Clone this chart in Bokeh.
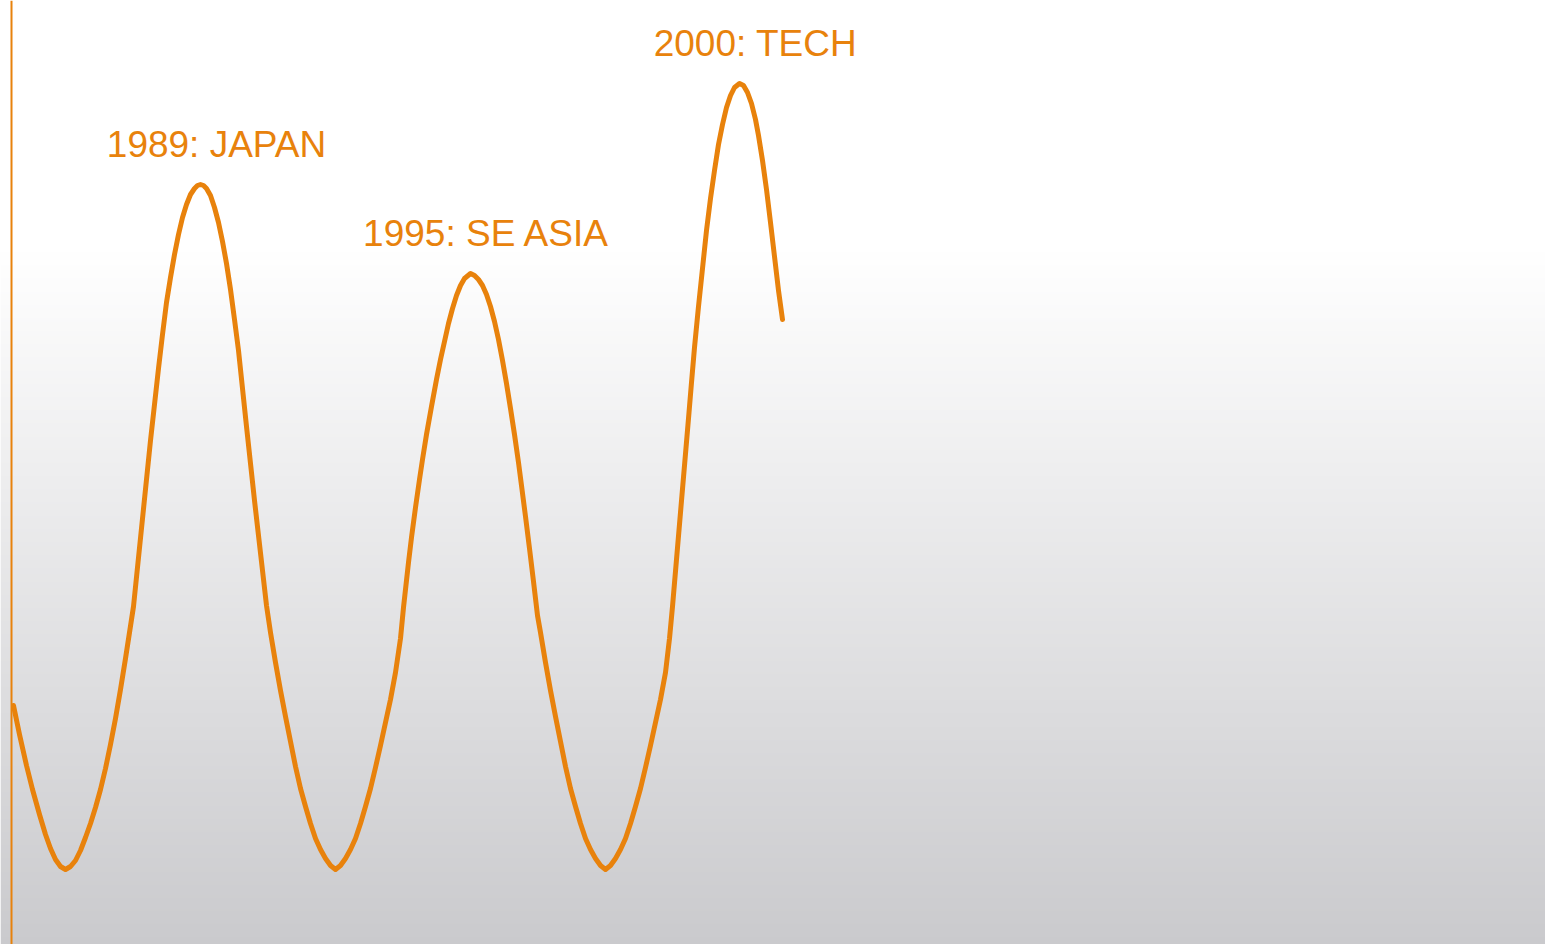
import numpy as np
from bokeh.plotting import figure
from bokeh.models import Range1d, Span
from bokeh.core.properties import value
from bokeh.embed import file_html
from bokeh.resources import INLINE

ORANGE = "#e8820c"

# Time position of each sample along the horizontal scale
t = [13, 19, 26, 32, 39, 45, 50, 55, 60, 65, 70, 75, 80, 85, 90, 95, 100, 105,
     110, 115, 120, 125, 129, 133, 150, 154, 158, 162, 166, 170, 174, 178, 182,
     186, 190, 194, 197, 200, 203, 206, 210, 214, 218, 222, 226, 230, 234, 238,
     242, 246, 250, 254, 258, 262, 266, 270, 275, 280, 285, 290, 295, 300, 305,
     310, 315, 320, 325, 330, 335, 340, 345, 350, 355, 360, 365, 370, 375, 380,
     385, 390, 395, 400, 403, 408, 411, 415, 419, 422, 426, 431, 436, 440, 444,
     448, 452, 456, 460, 464, 470, 474, 478, 482, 486, 490, 494, 498, 502, 506,
     510, 514, 518, 521, 525, 529, 533, 537, 540, 545, 550, 555, 560, 565, 570,
     575, 580, 585, 590, 595, 600, 605, 610, 615, 620, 625, 630, 635, 640, 645,
     650, 655, 660, 665, 669, 672, 676, 680, 684, 688, 691, 694, 698, 702, 706,
     710, 714, 718, 722, 726, 730, 734, 739, 743, 747, 751, 755, 758, 762, 766,
     770, 774, 778, 782]

# Market level at each sample
level = [239, 210, 179, 155, 130, 110, 96, 85, 78, 75, 78, 84, 94, 107, 121,
         137, 155, 176, 200, 226, 255, 286, 312, 338, 504, 540, 576, 610, 642,
         667, 690, 710, 727, 740, 750, 756, 759, 760, 759, 756, 749, 737, 722,
         703, 681, 655, 625, 594, 556, 518, 481, 444, 409, 374, 339, 312, 282,
         254, 228, 203, 178, 156, 138, 121, 106, 95, 86, 79, 75, 79, 86, 95, 106,
         121, 138, 156, 177, 199, 222, 245, 272, 306, 337, 382, 407, 437, 465,
         485, 510, 538, 565, 585, 603, 621, 636, 649, 659, 666, 671, 669, 665,
         659, 650, 638, 623, 605, 584, 561, 536, 510, 482, 459, 428, 396, 363,
         329, 312, 282, 254, 228, 203, 178, 156, 138, 121, 106, 95, 86, 79, 75,
         79, 86, 95, 106, 121, 138, 156, 177, 199, 222, 245, 272, 306, 338, 385,
         432, 479, 526, 562, 597, 638, 676, 714, 746, 774, 800, 820, 837, 849,
         857, 861, 859, 852, 841, 825, 809, 784, 755, 722, 688, 654, 625]

# Names of the three bubble peaks, in order
peak_labels = ["1989: JAPAN", "1995: SE ASIA", "2000: TECH"]

W, H = 1545, 944

p = figure(width=W, height=H, x_range=Range1d(0, W), y_range=Range1d(0, H),
           output_backend="svg", toolbar_location=None, min_border=0,
           x_axis_type=None, y_axis_type=None)
p.outline_line_color = None
p.background_fill_color = "white"
p.border_fill_color = "white"

# Vertical backdrop gradient: white at the top fading to a cool grey
rows = H
img = np.zeros((rows, 1), dtype=np.uint32)
px = img.view(dtype=np.uint8).reshape((rows, 1, 4))
top = np.array([255, 255, 255], dtype=float)
bottom = np.array([202, 202, 205], dtype=float)
for r in range(rows):
    depth = (rows - r - 0.5) / rows
    f = max(0.0, (depth - 0.26) / 0.74)
    c = top + (bottom - top) * f
    px[r, 0, 0:3] = np.round(c).astype(np.uint8)
    px[r, 0, 3] = 255
p.image_rgba(image=[img], x=0, y=0, dw=W, dh=H)

# Left rule
p.add_layout(Span(location=11, dimension="height", line_color=ORANGE,
                  line_width=2))

p.line(t, level, line_color=ORANGE, line_width=5, line_cap="round",
       line_join="round")

# Locate the local maxima of the series and label them
peak_idx = [i for i in range(1, len(level) - 1)
            if level[i] > level[i - 1] and level[i] >= level[i + 1]]
peak_t = [t[i] for i in peak_idx]
peak_v = [level[i] for i in peak_idx]

p.text(x=peak_t, y=peak_v, text=peak_labels[:len(peak_idx)],
       text_font=value("Liberation Sans"), text_font_size="37px",
       text_color=ORANGE, text_align="center", text_baseline="alphabetic",
       x_offset=16, y_offset=-40)

open("out.html", "w").write(file_html(p, INLINE))
